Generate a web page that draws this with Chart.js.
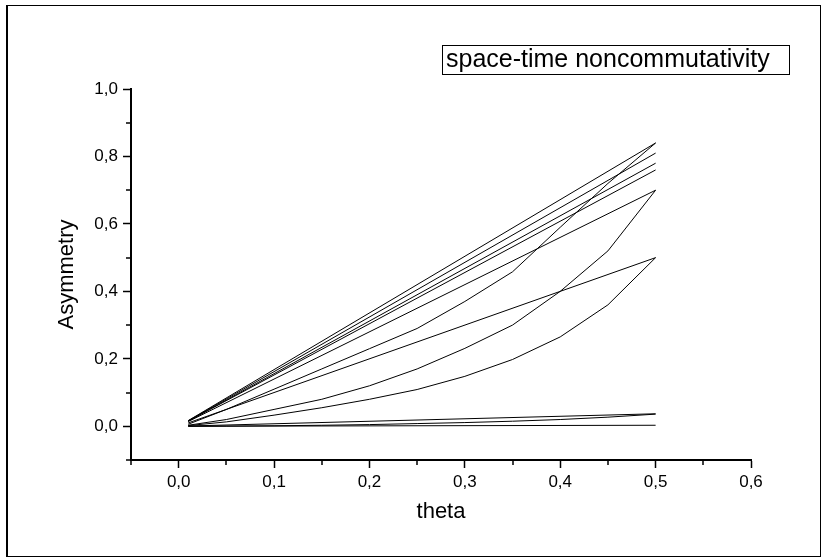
<!DOCTYPE html>
<html>
<head>
<meta charset="utf-8">
<script src="https://cdn.jsdelivr.net/npm/chart.js@4.4.0/dist/chart.umd.min.js"></script>
<style>
    html, body { margin: 0; padding: 0; background: #fff; }
</style>
</head>
<body>
<canvas id="myChart" width="822" height="559"></canvas>
<script>
// theta sample points used by the curved series
const thetaCurve = [0.01, 0.05, 0.1, 0.15, 0.2, 0.25, 0.3, 0.35, 0.4, 0.45, 0.5];
// straight series only have their two end points
const thetaLine = [0.01, 0.5];

const lineA = [0.0168, 0.84];
const lineB = [0.0162, 0.81];
const lineC = [0.0156, 0.78];
const lineH = [0.0152, 0.76];
const lineD = [0.014, 0.70];
const lineE = [0.010, 0.50];
const lineF = [0.0008, 0.037];
const lineG = [0.0001, 0.003];

const curveA = [0.006, 0.05, 0.11, 0.17, 0.23, 0.29, 0.37, 0.458, 0.59, 0.72, 0.84];
const curveD = [0.003, 0.02, 0.05, 0.08, 0.12, 0.17, 0.231, 0.30, 0.40, 0.52, 0.70];
const curveE = [0.002, 0.013, 0.033, 0.055, 0.08, 0.109, 0.148, 0.198, 0.265, 0.36, 0.50];
const curveF = [0.0, 0.0005, 0.0015, 0.003, 0.005, 0.008, 0.011, 0.015, 0.020, 0.027, 0.036];

const legendText = 'space-time noncommutativity';
const xTitle = 'theta';
const yTitle = 'Asymmetry';

const FONT = "'Liberation Sans', Arial, sans-serif";

function pts(xs, ys) {
    return xs.map((x, i) => ({ x: x, y: ys[i] }));
}

function isMajor(v, step) {
    return Math.abs(Math.round(v * 100) % step) === 0;
}

function fmt(v) {
    return (Math.round(v * 10) / 10).toFixed(1).replace('.', ',');
}

const series = [
    pts(thetaLine, lineA), pts(thetaLine, lineB), pts(thetaLine, lineC),
    pts(thetaLine, lineH), pts(thetaLine, lineD), pts(thetaLine, lineE),
    pts(thetaLine, lineF), pts(thetaLine, lineG),
    pts(thetaCurve, curveA), pts(thetaCurve, curveD), pts(thetaCurve, curveE),
    pts(thetaCurve, curveF)
];

const datasets = series.map(d => ({
    data: d,
    showLine: true,
    borderColor: '#000',
    borderWidth: 1,
    pointRadius: 0,
    tension: 0
}));

// frame, minor ticks, axis titles and the legend box
const decorations = {
    id: 'decorations',
    beforeDraw(chart) {
        const ctx = chart.ctx;
        ctx.save();
        ctx.fillStyle = '#fff';
        ctx.fillRect(0, 0, chart.width, chart.height);
        ctx.strokeStyle = '#000';
        ctx.lineWidth = 1;
        ctx.strokeRect(7.5, 5.5, 813, 551);
        ctx.lineWidth = 2;
        ctx.beginPath();
        ctx.moveTo(7, 5);
        ctx.lineTo(7, 557);
        ctx.stroke();
        ctx.restore();
    },
    afterDraw(chart) {
        const ctx = chart.ctx;
        const xs = chart.scales.x;
        const ys = chart.scales.y;
        const area = chart.chartArea;
        ctx.save();
        ctx.strokeStyle = '#000';
        ctx.lineWidth = 1.5;
        ctx.beginPath();
        for (let v = -0.05; v < 0.6; v += 0.1) {
            const px = Math.round(xs.getPixelForValue(v));
            ctx.moveTo(px, area.bottom);
            ctx.lineTo(px, area.bottom + 5);
        }
        for (let v = -0.1; v < 1.0; v += 0.2) {
            const py = Math.round(ys.getPixelForValue(v));
            ctx.moveTo(area.left, py);
            ctx.lineTo(area.left - 5, py);
        }
        ctx.stroke();

        ctx.fillStyle = '#000';
        ctx.font = '22px ' + FONT;
        ctx.textAlign = 'center';
        ctx.textBaseline = 'middle';
        ctx.fillText(xTitle, (area.left + area.right) / 2, 512);
        ctx.translate(67, (area.top + area.bottom) / 2);
        ctx.rotate(-Math.PI / 2);
        ctx.fillText(yTitle, 0, 0);
        ctx.restore();

        ctx.save();
        ctx.strokeStyle = '#000';
        ctx.lineWidth = 1;
        ctx.strokeRect(442.5, 45.5, 347, 29);
        ctx.fillStyle = '#000';
        ctx.font = '25px ' + FONT;
        ctx.textBaseline = 'middle';
        ctx.fillText(legendText, 446, 60);
        ctx.restore();
    }
};

const ctx = document.getElementById('myChart').getContext('2d');
const chart = new Chart(ctx, {
    type: 'scatter',
    data: { datasets: datasets },
    options: {
        responsive: false,
        animation: false,
        layout: { padding: { left: 0, top: 89, right: 71, bottom: 0 } },
        plugins: {
            legend: { display: false },
            tooltip: { enabled: false }
        },
        scales: {
            x: {
                type: 'linear',
                min: -0.05,
                max: 0.6,
                afterFit(scale) { scale.height = 99; },
                border: { display: true, color: '#000', width: 2 },
                grid: {
                    drawOnChartArea: false,
                    drawTicks: true,
                    tickLength: 8,
                    tickWidth: 1.5,
                    tickColor: c => isMajor(c.tick.value, 10) ? '#000' : 'rgba(0,0,0,0)'
                },
                ticks: {
                    stepSize: 0.05,
                    autoSkip: false,
                    maxRotation: 0,
                    padding: 4,
                    color: '#000',
                    font: { family: FONT, size: 17 },
                    callback: v => isMajor(v, 10) ? fmt(v) : ''
                }
            },
            y: {
                type: 'linear',
                min: -0.1,
                max: 1.0,
                afterFit(scale) { scale.width = 131; },
                border: { display: true, color: '#000', width: 2 },
                grid: {
                    drawOnChartArea: false,
                    drawTicks: true,
                    tickLength: 8,
                    tickWidth: 1.5,
                    tickColor: c => isMajor(c.tick.value, 20) ? '#000' : 'rgba(0,0,0,0)'
                },
                ticks: {
                    stepSize: 0.1,
                    autoSkip: false,
                    padding: 5,
                    color: '#000',
                    font: { family: FONT, size: 17 },
                    callback: v => isMajor(v, 20) ? fmt(v) : ''
                }
            }
        }
    },
    plugins: [decorations]
});
</script>
</body>
</html>
